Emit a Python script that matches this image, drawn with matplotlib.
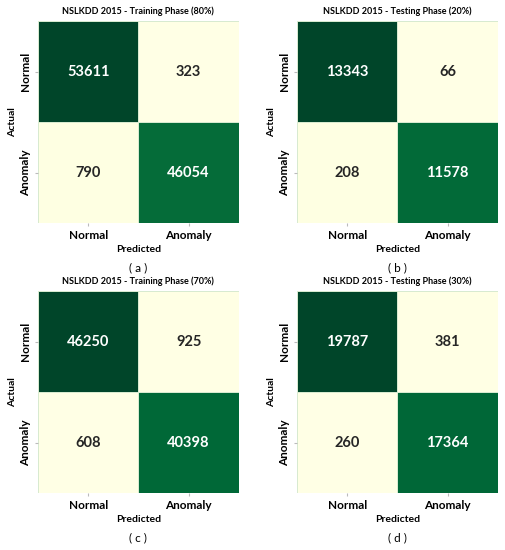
import matplotlib
matplotlib.use("Agg")
import matplotlib.pyplot as plt
import numpy as np
import seaborn as sns

plt.rcParams['font.family'] = ['Lato', 'DejaVu Sans']

labels = ['Normal', 'Anomaly']
titles = ['NSLKDD 2015 - Training Phase (80%)', 'NSLKDD 2015 - Testing Phase (20%)',
          'NSLKDD 2015 - Training Phase (70%)', 'NSLKDD 2015 - Testing Phase (30%)']
captions = ['( a )', '( b )', '( c )', '( d )']
cm_a = [[53611, 323], [790, 46054]]
cm_b = [[13343, 66], [208, 11578]]
cm_c = [[46250, 925], [608, 40398]]
cm_d = [[19787, 381], [260, 17364]]
matrices = [cm_a, cm_b, cm_c, cm_d]

fig = plt.figure(figsize=(5.06, 5.5), dpi=100)
lefts = [0.075, 0.587, 0.075, 0.587]
bottoms = [0.5945, 0.5945, 0.1036, 0.1036]
w, h = 0.397, 0.367

for i, cm in enumerate(matrices):
    ax = fig.add_axes([lefts[i], bottoms[i], w, h])
    sns.heatmap(np.array(cm), annot=True, fmt='d', cmap='YlGn', cbar=False,
                linewidths=0.6, linecolor='#d8ead0', ax=ax,
                xticklabels=labels, yticklabels=labels,
                annot_kws={'fontsize': 10.5, 'fontweight': 'bold'})
    ax.set_title(titles[i], fontsize=6.5, fontweight='bold', pad=5)
    ax.set_xlabel('Predicted', fontsize=7.5, fontweight='bold', labelpad=3)
    ax.set_ylabel('Actual', fontsize=7.5, fontweight='bold', labelpad=2)
    ax.tick_params(axis='both', labelsize=8.5, length=2, color='#bbbbbb', pad=3)
    for t in ax.get_xticklabels() + ax.get_yticklabels():
        t.set_fontweight('bold')
    plt.setp(ax.get_yticklabels(), rotation=90, va='center')
    ax.text(0.5, -0.22, captions[i], transform=ax.transAxes, ha='center', va='center',
            fontsize=8.5)

plt.savefig('out.png', dpi=100)
